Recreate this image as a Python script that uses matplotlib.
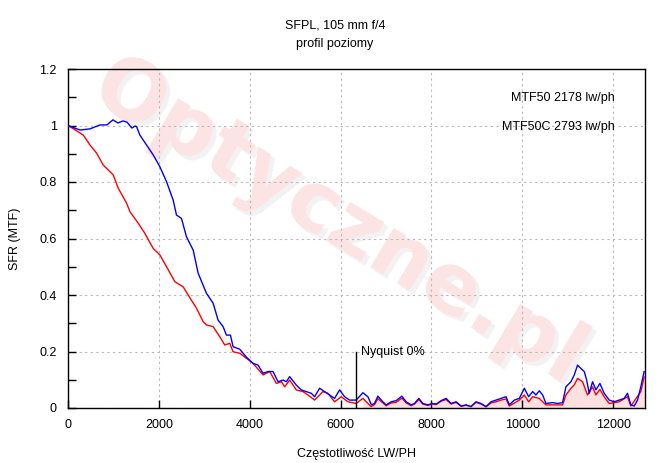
import matplotlib
matplotlib.use('Agg')
import matplotlib.pyplot as plt
import matplotlib.patheffects as pe
import numpy as np

plt.rcParams['font.family'] = ['Liberation Sans', 'DejaVu Sans']

# dane
freq_blue = [0, 264, 484, 703, 857, 989, 1099, 1209, 1297, 1407, 1473, 1510,
             1582, 1729, 1875, 2022, 2169, 2315, 2388, 2498, 2608, 2755, 2865,
             3048, 3194, 3304, 3414, 3487, 3575, 3634, 3780, 3927, 4073, 4183,
             4293, 4403, 4513, 4623, 4733, 4806, 4879, 5025, 5135, 5245, 5355,
             5429, 5538, 5648, 5758, 5868, 5978, 6088, 6198, 6344, 6490, 6600,
             6680, 6747, 6820, 6930, 7003, 7113, 7223, 7348, 7443, 7553, 7626,
             7722, 7810, 7919, 8015, 8103, 8212, 8322, 8432, 8542, 8652, 8762,
             8871, 8981, 9091, 9201, 9311, 9421, 9531, 9641, 9714, 9824, 9934,
             10044, 10139, 10227, 10300, 10373, 10447, 10520, 10667, 10777,
             10886, 10960, 11070, 11143, 11216, 11289, 11363, 11414, 11472,
             11546, 11619, 11707, 11802, 11912, 12022, 12132, 12242, 12315,
             12388, 12462, 12535, 12608, 12681]
mtf_blue = [1.0, 0.984, 0.988, 1.002, 1.002, 1.02, 1.009, 1.016, 1.012, 0.991,
            0.998, 0.996, 0.966, 0.931, 0.896, 0.854, 0.801, 0.736, 0.683,
            0.671, 0.606, 0.559, 0.477, 0.406, 0.371, 0.311, 0.288, 0.258,
            0.258, 0.217, 0.208, 0.180, 0.158, 0.152, 0.123, 0.129, 0.129,
            0.093, 0.099, 0.093, 0.111, 0.081, 0.064, 0.058, 0.052, 0.040,
            0.070, 0.058, 0.046, 0.034, 0.064, 0.040, 0.028, 0.028, 0.054,
            0.040, 0.011, 0.016, 0.042, 0.022, 0.011, 0.022, 0.026, 0.042,
            0.022, 0.011, 0.016, 0.034, 0.016, 0.011, 0.016, 0.014, 0.026,
            0.034, 0.016, 0.022, 0.007, 0.011, 0.005, 0.022, 0.016, 0.005,
            0.022, 0.028, 0.034, 0.040, 0.011, 0.028, 0.034, 0.070, 0.040,
            0.058, 0.046, 0.061, 0.046, 0.016, 0.019, 0.016, 0.019, 0.075,
            0.093, 0.117, 0.152, 0.140, 0.129, 0.100, 0.052, 0.093, 0.064,
            0.087, 0.052, 0.028, 0.022, 0.028, 0.034, 0.052, 0.011, 0.007,
            0.028, 0.075, 0.129]

freq_red = [0, 44, 337, 484, 630, 776, 996, 1106, 1290, 1363, 1546, 1692, 1875,
            2022, 2169, 2352, 2535, 2645, 2828, 2974, 3048, 3194, 3341, 3451,
            3560, 3634, 3780, 3927, 4073, 4293, 4440, 4586, 4697, 4770, 4879,
            5025, 5172, 5282, 5429, 5611, 5721, 5868, 6015, 6161, 6344, 6490,
            6673, 6747, 6820, 6930, 7003, 7113, 7223, 7348, 7443, 7553, 7626,
            7722, 7810, 7919, 8015, 8103, 8212, 8322, 8432, 8542, 8652, 8762,
            8871, 8981, 9091, 9201, 9311, 9421, 9531, 9641, 9714, 9934, 10044,
            10139, 10227, 10373, 10520, 10886, 10960, 11070, 11143, 11216,
            11326, 11436, 11546, 11619, 11707, 11802, 11912, 12132, 12315,
            12388, 12608, 12681]
mtf_red = [1.0, 0.996, 0.966, 0.931, 0.902, 0.86, 0.825, 0.778, 0.725, 0.695,
           0.654, 0.618, 0.565, 0.542, 0.5, 0.447, 0.429, 0.4, 0.353, 0.306,
           0.294, 0.288, 0.252, 0.223, 0.229, 0.199, 0.194, 0.176, 0.158,
           0.117, 0.129, 0.087, 0.093, 0.075, 0.099, 0.064, 0.058, 0.046,
           0.028, 0.058, 0.052, 0.022, 0.040, 0.022, 0.016, 0.034, 0.005,
           0.012, 0.033, 0.018, 0.008, 0.018, 0.020, 0.035, 0.018, 0.008,
           0.014, 0.030, 0.014, 0.009, 0.014, 0.012, 0.024, 0.030, 0.014,
           0.020, 0.006, 0.010, 0.005, 0.020, 0.014, 0.004, 0.018, 0.022,
           0.028, 0.032, 0.007, 0.028, 0.046, 0.022, 0.040, 0.034, 0.011,
           0.011, 0.046, 0.070, 0.082, 0.105, 0.093, 0.046, 0.075, 0.046,
           0.066, 0.040, 0.016, 0.022, 0.040, 0.007, 0.058, 0.110]

nyquist = 6350
mtf50 = 2178
mtf50c = 2793

fig = plt.figure(figsize=(6.70, 4.63), dpi=100)
ax = fig.add_axes([68 / 670, 55 / 463, 577 / 670, 339 / 463])

# znak wodny
ax.text(0.47, 0.55, 'Optyczne.pl', transform=ax.transAxes, fontsize=60,
        fontweight='bold', color='#fde4e4', rotation=-31, ha='center',
        va='center', family='DejaVu Sans', zorder=0,
        path_effects=[pe.SimplePatchShadow(offset=(3, -3), shadow_rgbFace='#f2f2f2', alpha=1),
                      pe.Normal()])

fr = np.array(freq_red)
mr = np.array(mtf_red)
mask = fr >= nyquist
ax.fill_between(fr[mask], 0, mr[mask], color='#ffe0e0', lw=0, zorder=1)

ax.plot(freq_red, mtf_red, color='#ff0000', lw=1.0, zorder=3)
ax.plot(freq_blue, mtf_blue, color='#0000ff', lw=1.0, zorder=4)

# linia Nyquista
ax.plot([nyquist, nyquist], [0, 0.2], color='black', lw=1.0, zorder=5)
ax.text(nyquist + 100, 0.2, 'Nyquist 0%', fontsize=9, va='center', ha='left')

ax.text(0.947, 0.915, 'MTF50 %d lw/ph' % mtf50, transform=ax.transAxes,
        fontsize=9, ha='right', va='center')
ax.text(0.947, 0.83, 'MTF50C %d lw/ph' % mtf50c, transform=ax.transAxes,
        fontsize=9, ha='right', va='center')

ax.set_xlim(0, 12700)
ax.set_ylim(0, 1.2)
ax.set_xticks(range(0, 12001, 2000))
ax.set_yticks([0, 0.2, 0.4, 0.6, 0.8, 1.0, 1.2])
ax.set_yticklabels(['0', '0.2', '0.4', '0.6', '0.8', '1', '1.2'])
ax.set_yticks(np.arange(0.1, 1.2, 0.2), minor=True)
ax.tick_params(direction='in', length=6, width=1, labelsize=9, pad=8)
ax.tick_params(which='minor', direction='in', length=6, width=1)

ax.grid(True, color='#b8b8b8', linestyle=(0, (2, 3)), lw=0.8)
for s in ax.spines.values():
    s.set_linewidth(1.0)

ax.set_xlabel('Częstotliwość LW/PH', fontsize=9, labelpad=12)
ax.set_ylabel('SFR (MTF)', fontsize=9, labelpad=13)
fig.text(0.5, 1 - 26 / 463, 'SFPL, 105 mm f/4', ha='center', va='center', fontsize=9)
fig.text(0.5, 1 - 44 / 463, 'profil poziomy', ha='center', va='center', fontsize=9)

fig.savefig('out.png', dpi=100)
